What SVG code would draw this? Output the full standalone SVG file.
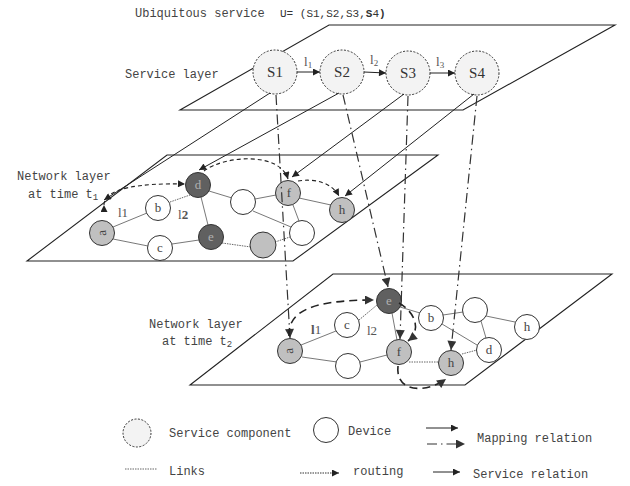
<svg xmlns="http://www.w3.org/2000/svg" width="630" height="486" viewBox="0 0 630 486">
<defs>
<style>
.plane{fill:none;stroke:#222;stroke-width:1.1}
.lnk{stroke:#555;stroke-width:0.8;fill:none}
.dot{stroke:#555;stroke-width:0.9;fill:none;stroke-dasharray:1.5 1}
.svc{fill:#f3f3f3;stroke:#333;stroke-width:1;stroke-dasharray:2 1.5}
.wh{fill:#fff;stroke:#333;stroke-width:1}
.gr{fill:#c0c0c0;stroke:#333;stroke-width:1}
.dk{fill:#606060;stroke:#333;stroke-width:1}
.map{stroke:#222;stroke-width:1;fill:none}
.dd{stroke:#333;stroke-width:1.2;fill:none;stroke-dasharray:10 4 1.5 4}
.rt1{stroke:#222;stroke-width:1.1;fill:none;stroke-dasharray:4 3}
.rt2{stroke:#222;stroke-width:1.6;fill:none;stroke-dasharray:8 5}
.txt{font-family:"Liberation Mono",monospace;font-size:12px;fill:#444}
.nl{font-family:"Liberation Serif",serif;font-size:13px;fill:#444;text-anchor:middle}
.dl{font-family:"Liberation Serif",serif;font-size:13px;fill:#b0b0b0;text-anchor:middle}
.sl{font-family:"Liberation Serif",serif;font-size:15px;fill:#333;text-anchor:middle}
.ll{font-family:"Liberation Serif",serif;font-size:13px;fill:#555}
</style>
<marker id="ah" viewBox="0 0 10 10" refX="10" refY="5" markerWidth="9" markerHeight="7" orient="auto" markerUnits="userSpaceOnUse"><path d="M0,0 L10,5 L0,10 z" fill="#222"/></marker>
<marker id="ahb" viewBox="0 0 10 10" refX="10" refY="5" markerWidth="12" markerHeight="9" orient="auto" markerUnits="userSpaceOnUse"><path d="M0,0 L10,5 L0,10 z" fill="#333"/></marker>
</defs>
<rect width="630" height="486" fill="#fff"/>

<!-- planes -->
<g id="planes">
<path class="plane" d="M329,25 L615,25 L463,110 L180,110 Z"/>
<path class="plane" d="M167,155 L438,155 L293,261 L27,261 Z"/>
<path class="plane" d="M333,274 L612,274 L465,385 L190,385 Z"/>
</g>

<!-- titles -->
<g id="labels">
<text class="txt" x="135" y="17">Ubiquitous service</text>
<text x="280" y="17" style="font-family:'Liberation Mono',monospace;font-size:11px;fill:#333">U= (S1,S2,S3,<tspan font-weight="bold">S</tspan>4<tspan font-weight="bold">)</tspan></text>
<text class="txt" x="125" y="78">Service layer</text>
<text class="txt" x="17" y="180">Network layer</text>
<text class="txt" x="28" y="198">at time t<tspan font-size="9" dy="2">1</tspan></text>
<text class="txt" x="149" y="328">Network layer</text>
<text class="txt" x="162" y="345">at time t<tspan font-size="9" dy="2">2</tspan></text>
<text class="ll" x="304" y="66">l<tspan font-size="9" dy="2">1</tspan></text>
<text class="ll" x="370" y="64">l<tspan font-size="9" dy="2">2</tspan></text>
<text class="ll" x="436" y="66">l<tspan font-size="9" dy="2">3</tspan></text>
<text class="ll" x="118" y="217">l1</text>
<text class="ll" x="178" y="219">l<tspan font-weight="bold">2</tspan></text>
<text class="ll" x="311" y="334" font-size="14"><tspan font-weight="bold">l</tspan>1</text>
<text class="ll" x="367" y="335" font-size="14">l2</text>
</g>

<!-- links -->
<g id="links">
<line class="lnk" x1="113" y1="227" x2="147" y2="213"/>
<line class="lnk" x1="113" y1="239" x2="148" y2="246"/>
<line class="dot" x1="170" y1="202" x2="190" y2="195"/>
<line class="lnk" x1="201" y1="197" x2="208" y2="225"/>
<line class="lnk" x1="172" y1="244" x2="199" y2="240"/>
<line class="dot" x1="222" y1="243" x2="251" y2="247"/>
<line class="lnk" x1="209" y1="191" x2="232" y2="198"/>
<line class="lnk" x1="255" y1="199" x2="276" y2="195"/>
<line class="lnk" x1="253" y1="211" x2="291" y2="227"/>
<line class="lnk" x1="293" y1="205" x2="299" y2="221"/>
<line class="lnk" x1="299" y1="198" x2="331" y2="205"/>
<line class="dot" x1="275" y1="242" x2="290" y2="237"/>

<line class="lnk" x1="301" y1="345" x2="336" y2="331"/>
<line class="lnk" x1="302" y1="357" x2="337" y2="362"/>
<line class="dot" x1="359" y1="320" x2="377" y2="305"/>
<line class="lnk" x1="392" y1="313" x2="397" y2="340"/>
<line class="lnk" x1="360" y1="362" x2="387" y2="355"/>
<line class="lnk" x1="400" y1="307" x2="420" y2="313"/>
<line class="lnk" x1="443" y1="315" x2="463" y2="312"/>
<line class="lnk" x1="442" y1="324" x2="477" y2="345"/>
<line class="lnk" x1="481" y1="321" x2="486" y2="338"/>
<line class="lnk" x1="486" y1="316" x2="515" y2="322"/>
<line class="dot" x1="462" y1="354" x2="477" y2="350"/>
<line class="dot" x1="409" y1="362" x2="439" y2="362"/>
</g>

<!-- service layer nodes -->
<g id="S1"><circle class="svc" cx="275" cy="72" r="22"/><text class="sl" x="275" y="77">S1</text></g>
<g id="S2"><circle class="svc" cx="342" cy="72" r="22"/><text class="sl" x="342" y="77">S2</text></g>
<g id="S3"><circle class="svc" cx="408" cy="73" r="22"/><text class="sl" x="408" y="78">S3</text></g>
<g id="S4"><circle class="svc" cx="477" cy="73" r="22"/><text class="sl" x="477" y="78">S4</text></g>

<!-- network layer t1 nodes -->
<g id="n1-a"><circle class="gr" cx="102" cy="233" r="12.5"/><text class="nl" x="102" y="237" transform="rotate(-95 102 233)">a</text></g>
<g id="n1-b"><circle class="wh" cx="158" cy="208" r="12.5"/><text class="nl" x="158" y="212">b</text></g>
<g id="n1-c"><circle class="wh" cx="160" cy="248" r="12.5"/><text class="nl" x="160" y="252">c</text></g>
<g id="n1-d"><circle class="dk" cx="198" cy="185" r="12.5"/><text class="dl" x="198" y="189">d</text></g>
<g id="n1-e"><circle class="dk" cx="211" cy="237" r="12.5"/><text class="dl" x="211" y="241">e</text></g>
<g id="n1-w1"><circle class="wh" cx="243" cy="202" r="12.5"/></g>
<g id="n1-f"><circle class="gr" cx="288" cy="193" r="12.5"/><text class="nl" x="289" y="197">f</text></g>
<g id="n1-h"><circle class="gr" cx="342" cy="210" r="12.5"/><text class="nl" x="342" y="214">h</text></g>
<g id="n1-w2"><circle class="wh" cx="302" cy="233" r="12.5"/></g>
<g id="n1-g"><circle class="gr" cx="263" cy="245" r="13"/></g>

<!-- network layer t2 nodes -->
<g id="n2-e"><circle class="dk" cx="389" cy="301" r="12.5"/><text class="dl" x="389" y="305">e</text></g>
<g id="n2-c"><circle class="wh" cx="347" cy="325" r="12.5"/><text class="nl" x="347" y="329">c</text></g>
<g id="n2-a"><circle class="gr" cx="290" cy="351" r="12.5"/><text class="nl" x="290" y="354" font-size="10" transform="rotate(-95 290 351)">a</text></g>
<g id="n2-w"><circle class="wh" cx="348" cy="366" r="12.5"/></g>
<g id="n2-f"><circle class="gr" cx="399" cy="352" r="12.5"/><text class="nl" x="399" y="356">f</text></g>
<g id="n2-b"><circle class="wh" cx="431" cy="318" r="12.5"/><text class="nl" x="431" y="322">b</text></g>
<g id="n2-w3"><circle class="wh" cx="475" cy="310" r="12.5"/></g>
<g id="n2-hw"><circle class="wh" cx="527" cy="327" r="12.5"/><text class="nl" x="527" y="331">h</text></g>
<g id="n2-d"><circle class="wh" cx="489" cy="350" r="12.5"/><text class="nl" x="489" y="354">d</text></g>
<g id="n2-h"><circle class="gr" cx="451" cy="363" r="12.5"/><text class="nl" x="451" y="367">h</text></g>

<!-- connectors -->
<g id="connectors">
<line class="map" x1="297" y1="72" x2="320" y2="72" marker-end="url(#ah)"/>
<line class="map" x1="364" y1="72" x2="386" y2="73" marker-end="url(#ah)"/>
<line class="map" x1="430" y1="73" x2="455" y2="73" marker-end="url(#ah)"/>
<line class="map" x1="270" y1="93" x2="104" y2="200" marker-end="url(#ah)"/>
<line class="map" x1="339" y1="93" x2="199" y2="170" marker-end="url(#ah)"/>
<line class="map" x1="404" y1="94" x2="292" y2="177" marker-end="url(#ah)"/>
<line class="map" x1="474" y1="94" x2="345" y2="196" marker-end="url(#ah)"/>
<line class="dd" x1="276" y1="95" x2="290" y2="338" marker-end="url(#ahb)"/>
<line class="dd" x1="343" y1="95" x2="388" y2="287" marker-end="url(#ahb)"/>
<line class="dd" x1="408" y1="96" x2="400" y2="339" marker-end="url(#ahb)"/>
<line class="dd" x1="477" y1="96" x2="451" y2="350" marker-end="url(#ahb)"/>
<path class="rt1" d="M104,205 C104,188 140,183 185,184" marker-start="url(#ah)" marker-end="url(#ah)"/>
<path class="rt1" d="M204,171 C225,155 280,152 288,179" marker-end="url(#ah)"/>
<path class="rt1" d="M298,181 C315,178 332,183 339,196" marker-end="url(#ah)"/>
<path class="rt2" d="M289,336 C288,312 310,300 374,300" marker-end="url(#ahb)"/>
<path class="rt2" d="M399,303 C415,312 422,330 408,341" marker-end="url(#ahb)"/>
<path class="rt2" d="M398,366 C395,392 425,394 446,379" marker-end="url(#ahb)"/>
</g>

<!-- legend -->
<g id="legend">
<circle class="svc" cx="137" cy="433" r="14"/>
<text class="txt" x="169" y="437">Service component</text>
<circle class="wh" cx="326" cy="430" r="12.5"/>
<text class="txt" x="348" y="435">Device</text>
<line class="map" x1="426" y1="428" x2="458" y2="428" marker-end="url(#ah)"/>
<line x1="427" y1="444" x2="465" y2="444" stroke="#333" stroke-width="1.2" stroke-dasharray="10 4 1.5 4" marker-end="url(#ahb)"/>
<text class="txt" x="477" y="442">Mapping relation</text>
<line class="dot" x1="125" y1="469" x2="157" y2="469"/>
<text class="txt" x="169" y="475">Links</text>
<line x1="300" y1="473" x2="339" y2="473" stroke="#333" stroke-width="1" stroke-dasharray="1.5 1" marker-end="url(#ah)"/>
<text class="txt" x="353" y="475">routing</text>
<line class="map" x1="433" y1="472" x2="460" y2="472" marker-end="url(#ah)"/>
<text class="txt" x="473" y="478">Service relation</text>
</g>
</svg>
